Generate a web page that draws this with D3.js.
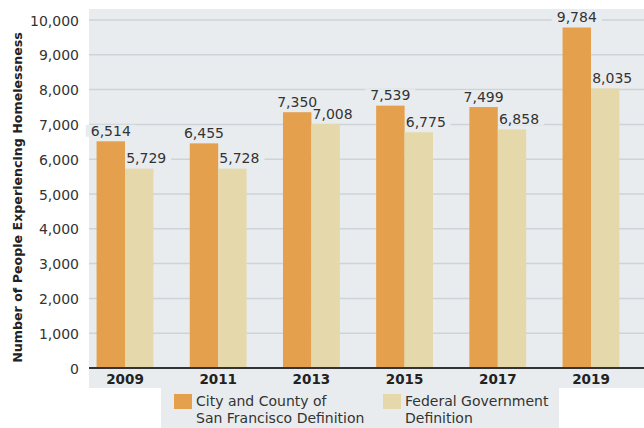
<!DOCTYPE html>
<html><head><meta charset="utf-8">
<script src="https://cdn.jsdelivr.net/npm/d3@7"></script>
<style>
body{margin:0;background:#fff;}
text{font-family:"DejaVu Sans",sans-serif;}
</style></head>
<body><svg id="c" width="644" height="428"></svg>
<script>
const years = ["2009","2011","2013","2015","2017","2019"];
const cityValues = [6514, 6455, 7350, 7539, 7499, 9784];
const federalValues = [5729, 5728, 7008, 6775, 6858, 8035];
const yTicks = [0,1000,2000,3000,4000,5000,6000,7000,8000,9000,10000];
const seriesNames = ["City and County of|San Francisco Definition", "Federal Government|Definition"];
const colors = ["#e4a04c", "#e5d9ab"];

const svg = d3.select("#c");
const panelBg = "#e9ecee";
const y = d3.scaleLinear().domain([0,10000]).range([368,20]);
const x = d3.scaleBand().domain(years).range([78.4,637.6]).paddingInner(0.39).paddingOuter(0.195);
const sub = d3.scaleBand().domain([0,1]).range([0,x.bandwidth()]);

// panel
svg.append("rect").attr("x",89).attr("y",9).attr("width",555).attr("height",379).attr("fill",panelBg);

// gridlines
svg.append("g").selectAll("line").data(yTicks.filter(d=>d>0)).join("line")
  .attr("x1",89).attr("x2",644).attr("y1",d=>y(d)).attr("y2",d=>y(d))
  .attr("stroke","#cdd3d8").attr("stroke-width",1.5);

// y axis labels
const yAxis = d3.axisLeft(y).tickValues(yTicks).tickFormat(d3.format(",")).tickSize(0).tickPadding(0);
const ya = svg.append("g").attr("transform","translate(79,0)").call(yAxis);
ya.select(".domain").remove();
ya.selectAll("text").attr("font-size",14).attr("fill","#333").attr("font-family","'DejaVu Sans',sans-serif").attr("dy","0.36em");

// y title
const title = svg.append("text").attr("transform","translate(21.5,197.5) rotate(-90)")
  .attr("text-anchor","middle").attr("font-size",12).attr("font-weight","bold").attr("fill","#222")
  .text("Number of People Experiencing Homelessness");
const tl = title.node().getComputedTextLength();
title.attr("font-size", 12*331/tl);

const data = years.map((yr,i)=>({yr, vals:[cityValues[i], federalValues[i]]}));
const fmt = d3.format(",");
const bgLayer = svg.append("g");
const barLayer = svg.append("g");
const txtLayer = svg.append("g");

// bars
const groups = barLayer.selectAll("g").data(data).join("g").attr("transform",d=>`translate(${x(d.yr)},0)`);
groups.selectAll("rect").data(d=>d.vals.map((v,k)=>({v,k}))).join("rect")
  .attr("x",d=>sub(d.k)).attr("width",sub.bandwidth())
  .attr("y",d=>y(d.v)).attr("height",d=>y(0)-y(d.v)).attr("fill",d=>colors[d.k]);

// value labels with background masking gridlines
data.forEach(d=>{
  d.vals.forEach((v,k)=>{
    const cx = x(d.yr) + sub(k)+sub.bandwidth()/2 + (k===1?7:0);
    const by = y(v) - 5.5;
    const t = txtLayer.append("text").attr("x",cx).attr("y",by).attr("text-anchor","middle")
      .attr("font-size",14).attr("fill","#333").text(fmt(v));
    const bb = t.node().getBBox();
    bgLayer.append("rect").attr("x",bb.x-5).attr("y",bb.y+2).attr("width",bb.width+10).attr("height",bb.height-4)
      .attr("fill",panelBg);
  });
});

// baseline
svg.append("line").attr("x1",89).attr("x2",644).attr("y1",368).attr("y2",368).attr("stroke","#333").attr("stroke-width",2);

// x labels
const xAxis = d3.axisBottom(x).tickSize(0).tickPadding(0);
const xa = svg.append("g").attr("transform","translate(0,379)").call(xAxis);
xa.select(".domain").remove();
xa.selectAll("text").attr("font-size",13.5).attr("font-weight","bold").attr("fill","#222")
  .attr("font-family","'DejaVu Sans',sans-serif").attr("dy","0.36em");

// legend
svg.append("rect").attr("x",161).attr("y",388).attr("width",398).attr("height",40).attr("fill",panelBg);
const legX = [174, 383];
seriesNames.forEach((name,k)=>{
  svg.append("rect").attr("x",legX[k]).attr("y",394).attr("width",18).attr("height",15).attr("fill",colors[k]);
  const lines = name.split("|");
  lines.forEach((ln,j)=>{
    svg.append("text").attr("x",legX[k]+22).attr("y",406+j*17).attr("font-size",14).attr("fill","#333").text(ln);
  });
});
</script></body></html>
